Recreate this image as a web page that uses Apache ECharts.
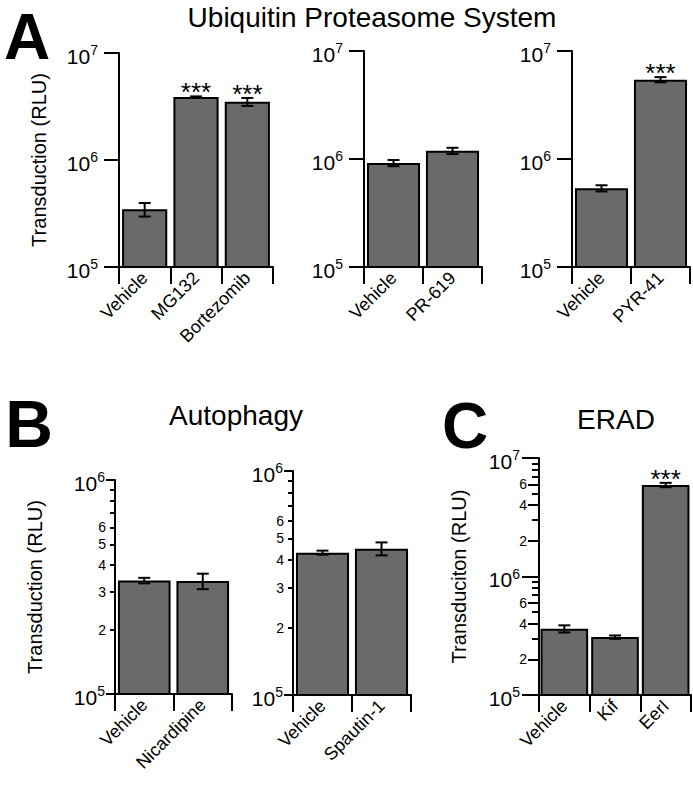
<!DOCTYPE html>
<html><head><meta charset="utf-8">
<script src="https://cdn.jsdelivr.net/npm/echarts@6/dist/echarts.min.js"></script>
<style>html,body{margin:0;padding:0;background:#fff}#c{width:693px;height:786px}</style>
</head><body><div id="c"></div><script>
const FONT = '"Liberation Sans", Arial, Helvetica, sans-serif';

// ---- data ----
const catsA1 = ['Vehicle', 'MG132', 'Bortezomib'];
const valsA1 = [346000, 3870000, 3500000];
const errA1 = [50000, 60000, 300000];
const sigA1 = ['', '***', '***'];

const catsA2 = ['Vehicle', 'PR-619'];
const valsA2 = [918000, 1190000];
const errA2 = [60000, 80000];
const sigA2 = ['', ''];

const catsA3 = ['Vehicle', 'PYR-41'];
const valsA3 = [536000, 5430000];
const errA3 = [35000, 300000];
const sigA3 = ['', '***'];

const catsB1 = ['Vehicle', 'Nicardipine'];
const valsB1 = [339000, 337000];
const errB1 = [10000, 28000];
const sigB1 = ['', ''];

const catsB2 = ['Vehicle', 'Spautin-1'];
const valsB2 = [432000, 450000];
const errB2 = [9000, 30000];
const sigB2 = ['', ''];

const catsC = ['Vehicle', 'Kif', 'EerI'];
const valsC = [362000, 308000, 5920000];
const errC = [25000, 10000, 250000];
const sigC = ['', '', '***'];

const minorTicksB = [2e5, 3e5, 4e5, 5e5, 6e5, 7e5, 8e5, 9e5];
const minorLabelsB = [2e5, 3e5, 4e5, 5e5, 6e5];
const minorTicksC = [3e5, 5e5, 7e5, 8e5, 9e5, 3e6, 5e6, 7e6, 8e6, 9e6];
const minorLabelsC = [2e5, 4e5, 6e5, 2e6, 4e6, 6e6];

// ---- layout ----
const panels = [
  {grid: {left: 119, top: 53, width: 154, height: 214}, cats: catsA1, vals: valsA1, errs: errA1, sig: sigA1,
   max: 1e7, name: 'Transduction (RLU)', tickLen: 15, labelMargin: 21, gap: '12%'},
  {grid: {left: 364, top: 51, width: 118, height: 216}, cats: catsA2, vals: valsA2, errs: errA2, sig: sigA2,
   max: 1e7, name: '', tickLen: 15, labelMargin: 21, gap: '10%'},
  {grid: {left: 572, top: 51, width: 118, height: 216}, cats: catsA3, vals: valsA3, errs: errA3, sig: sigA3,
   max: 1e7, name: '', tickLen: 15, labelMargin: 21, gap: '10%'},
  {grid: {left: 115, top: 480, width: 117, height: 214}, cats: catsB1, vals: valsB1, errs: errB1, sig: sigB1,
   max: 1e6, name: 'Transduction (RLU)', tickLen: 9, labelMargin: 10, gap: '10%',
   minor: [{ticks: minorTicksB, labels: minorLabelsB, len: 5, margin: 9}]},
  {grid: {left: 293, top: 471, width: 118, height: 224}, cats: catsB2, vals: valsB2, errs: errB2, sig: sigB2,
   max: 1e6, name: '', tickLen: 9, labelMargin: 10, gap: '10%',
   minor: [{ticks: minorTicksB, labels: minorLabelsB, len: 5, margin: 9}]},
  {grid: {left: 539, top: 458, width: 152, height: 237}, cats: catsC, vals: valsC, errs: errC, sig: sigC,
   max: 1e7, name: 'Transduciton (RLU)', tickLen: 17, labelMargin: 19, gap: '6%',
   minor: [{ticks: minorTicksC, labels: [], len: 7, margin: 12}, {ticks: minorLabelsC, labels: minorLabelsC, len: 11, margin: 12}]}
];

const black = '#000';
const grids = [], xAxes = [], yAxes = [], series = [];

panels.forEach((p, i) => {
  grids.push(Object.assign({containLabel: false}, p.grid));
  xAxes.push({
    type: 'category', gridIndex: i, data: p.cats,
    axisLine: {lineStyle: {color: black, width: 2}},
    axisTick: {show: true, length: 17, lineStyle: {color: black, width: 2}},
    axisLabel: {interval: 0, rotate: 45, margin: 8, fontSize: 18, fontFamily: FONT, color: black}
  });
  const yMain = yAxes.length;
  yAxes.push({
    type: 'log', logBase: 10, gridIndex: i, min: 1e5, max: p.max,
    name: p.name, nameLocation: 'middle', nameGap: 70,
    nameTextStyle: {fontSize: 20, fontFamily: FONT, color: black},
    axisLine: {show: true, lineStyle: {color: black, width: 2}},
    axisTick: {show: true, length: p.tickLen, lineStyle: {color: black, width: 2}},
    splitLine: {show: false},
    axisLabel: {
      margin: p.labelMargin, padding: [6, 0, 0, 0],
      formatter: v => '{b|10}{s|' + Math.round(Math.log10(v)) + '}',
      rich: {
        b: {fontSize: 21, lineHeight: 26, fontFamily: FONT, color: black},
        s: {fontSize: 14, lineHeight: 8, verticalAlign: 'top', fontFamily: FONT, color: black}
      }
    }
  });
  (p.minor || []).forEach(m => {
    yAxes.push({
      type: 'value', gridIndex: i, min: 5, max: Math.log10(p.max), position: 'left',
      axisLine: {show: false},
      splitLine: {show: false},
      axisTick: {show: true, length: m.len, customValues: m.ticks.map(Math.log10), lineStyle: {color: black, width: 2}},
      axisLabel: {
        show: m.labels.length > 0, margin: m.margin,
        customValues: m.labels.map(Math.log10),
        formatter: v => String(Math.round(Math.pow(10, v) / Math.pow(10, Math.floor(v + 1e-9)))),
        fontSize: 14, fontFamily: FONT, color: black
      }
    });
  });
  series.push({
    type: 'bar', xAxisIndex: i, yAxisIndex: yMain, data: p.vals,
    barCategoryGap: p.gap,
    itemStyle: {color: '#6a6a6a', borderColor: black, borderWidth: 2},
    silent: true, animation: false
  });
  const sig = p.sig;
  series.push({
    type: 'custom', xAxisIndex: i, yAxisIndex: yMain,
    data: p.vals.map((v, k) => [k, v, p.errs[k]]),
    z: 5, silent: true, animation: false,
    renderItem: (params, api) => {
      const k = api.value(0), v = api.value(1), e = api.value(2);
      const hi = api.coord([k, v + e]);
      const lo = api.coord([k, v - e]);
      const hw = 6;
      const st = {stroke: black, lineWidth: 2};
      const children = [
        {type: 'line', shape: {x1: hi[0], y1: hi[1], x2: lo[0], y2: lo[1]}, style: st},
        {type: 'line', shape: {x1: hi[0] - hw, y1: hi[1], x2: hi[0] + hw, y2: hi[1]}, style: st},
        {type: 'line', shape: {x1: lo[0] - hw, y1: lo[1], x2: lo[0] + hw, y2: lo[1]}, style: st}
      ];
      const s = sig[params.dataIndex];
      if (s) {
        children.push({type: 'text', x: hi[0], y: hi[1] - 4,
          style: {text: s, fill: black, font: '26px ' + FONT, textAlign: 'center', textVerticalAlign: 'middle'}});
      }
      return {type: 'group', children};
    }
  });
});

const txt = (t, x, y, size, bold) => ({
  type: 'text', x, y,
  style: {text: t, fill: black, font: (bold ? 'bold ' : '') + size + 'px ' + FONT, textAlign: 'center', textVerticalAlign: 'middle'}
});

const chart = echarts.init(document.getElementById('c'), null, {renderer: 'svg'});
chart.setOption({
  backgroundColor: '#fff',
  animation: false,
  grid: grids, xAxis: xAxes, yAxis: yAxes, series,
  graphic: [
    txt('A', 27, 37, 64, true),
    txt('B', 29, 424, 66, true),
    txt('C', 465, 426, 64, true),
    txt('Ubiquitin Proteasome System', 372, 17, 28, false),
    txt('Autophagy', 236, 415, 28, false),
    txt('ERAD', 616, 419, 28, false)
  ]
});
</script></body></html>
